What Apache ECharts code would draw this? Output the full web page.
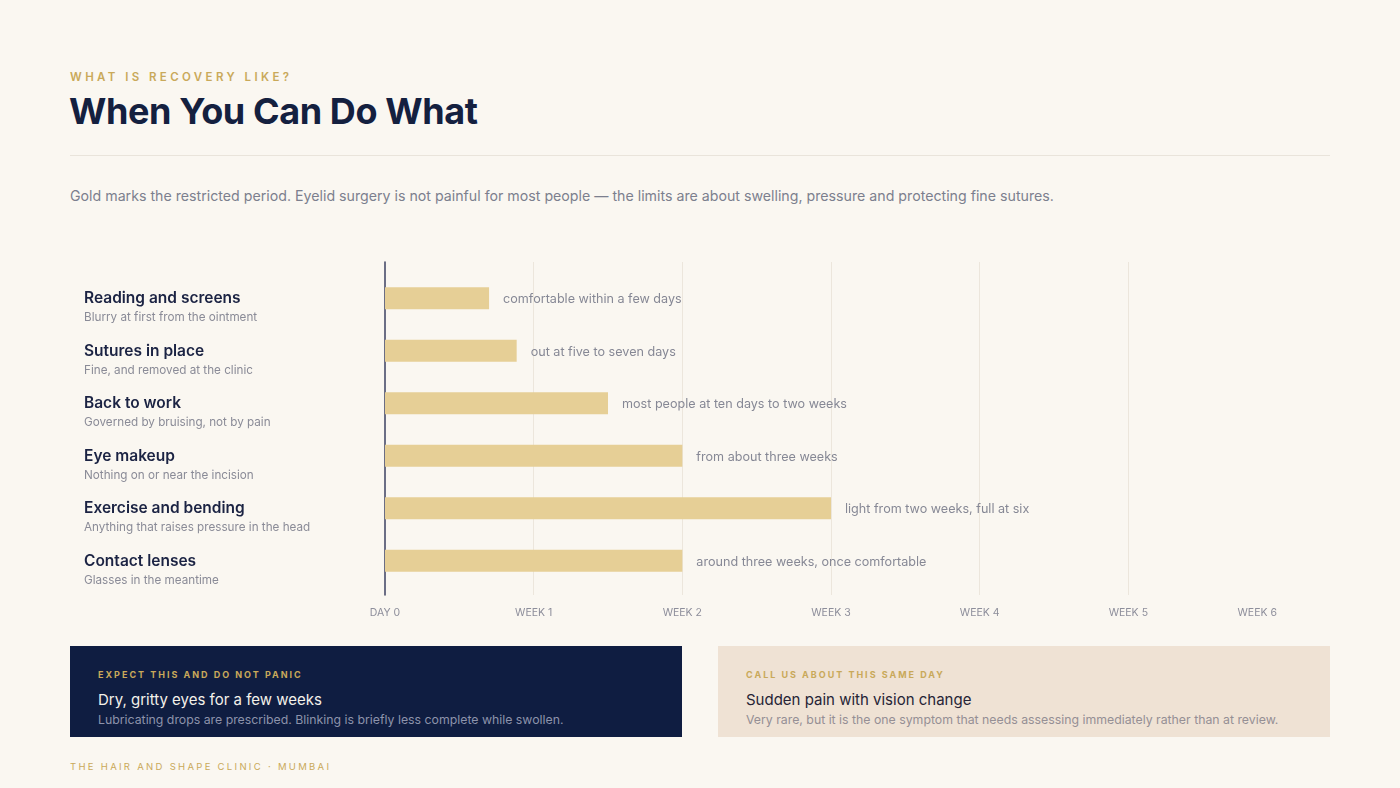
<!DOCTYPE html>
<html>
<head>
<meta charset="utf-8">
<script src="https://cdn.jsdelivr.net/npm/echarts@6/dist/echarts.min.js"></script>
<style>
  html, body { margin: 0; padding: 0; }
  body { width: 1400px; height: 788px; background: #faf7f1; position: relative; overflow: hidden; font-family: Inter, "Noto Sans", sans-serif; }
  .abs { position: absolute; }
  .kicker { left: 70px; top: 70px; font-size: 11.5px; letter-spacing: 3.4px; color: #c9a95a; font-weight: 600; }
  .title { left: 69px; top: 89px; font-size: 36px; font-weight: 700; color: #14203f; letter-spacing: -0.4px; }
  .rule { left: 70px; top: 155px; width: 1260px; height: 1px; background: #e9e4db; }
  .lede { left: 70px; top: 187px; font-size: 14.2px; color: #7c7f8e; }
  #chart { left: 0; top: 230px; width: 1400px; height: 400px; }
  .box { top: 646px; width: 612px; height: 91px; box-sizing: border-box; padding: 23px 28px 0 28px; }
  .box .lab { font-size: 9px; letter-spacing: 2px; font-weight: 700; color: #c9a95a; }
  .box .hd { font-size: 15px; margin-top: 10px; }
  .box .tx { font-size: 12.3px; margin-top: 3px; }
  .dark { left: 70px; background: #0f1d41; }
  .dark .hd { color: #f4f1ea; }
  .dark .tx { color: #8d93ab; }
  .light { left: 718px; background: #efe2d4; }
  .light .hd { color: #262436; }
  .light .tx { color: #958f94; }
  .foot { left: 70px; top: 761px; font-size: 9.5px; letter-spacing: 2.3px; color: #c9a95a; }
</style>
</head>
<body>
<div class="abs kicker">WHAT IS RECOVERY LIKE?</div>
<div class="abs title">When You Can Do What</div>
<div class="abs rule"></div>
<div class="abs lede">Gold marks the restricted period. Eyelid surgery is not painful for most people — the limits are about swelling, pressure and protecting fine sutures.</div>
<div class="abs" id="chart"></div>
<div class="abs box dark">
  <div class="lab">EXPECT THIS AND DO NOT PANIC</div>
  <div class="hd">Dry, gritty eyes for a few weeks</div>
  <div class="tx">Lubricating drops are prescribed. Blinking is briefly less complete while swollen.</div>
</div>
<div class="abs box light">
  <div class="lab">CALL US ABOUT THIS SAME DAY</div>
  <div class="hd">Sudden pain with vision change</div>
  <div class="tx">Very rare, but it is the one symptom that needs assessing immediately rather than at review.</div>
</div>
<div class="abs foot">THE HAIR AND SHAPE CLINIC · MUMBAI</div>
<script>
// activities and how long each is restricted (days)
var activities = ['Reading and screens', 'Sutures in place', 'Back to work', 'Eye makeup', 'Exercise and bending', 'Contact lenses'];
var activityNotes = ['Blurry at first from the ointment', 'Fine, and removed at the clinic', 'Governed by bruising, not by pain', 'Nothing on or near the incision', 'Anything that raises pressure in the head', 'Glasses in the meantime'];
var restrictedDays = [4.9, 6.2, 10.5, 14, 21, 14];
var barNotes = ['comfortable within a few days', 'out at five to seven days', 'most people at ten days to two weeks', 'from about three weeks', 'light from two weeks, full at six', 'around three weeks, once comfortable'];
var tickLabels = ['DAY 0', 'WEEK 1', 'WEEK 2', 'WEEK 3', 'WEEK 4', 'WEEK 5', 'WEEK 6'];

var FONT = 'Inter, "Noto Sans", sans-serif';
var myChart = echarts.init(document.getElementById('chart'));
var option = {
  animation: false,
  textStyle: { fontFamily: FONT },
  grid: [
    { left: 385, right: 123, top: 32, bottom: 35 },
    { left: 385, right: 123, top: 42, bottom: 43 }
  ],
  xAxis: [
    {
      gridIndex: 0, type: 'value', min: 0, max: 42, interval: 7,
      axisLine: { show: false }, axisTick: { show: false },
      splitLine: { show: true, showMinLine: false, showMaxLine: false, lineStyle: { color: '#ece6dc', width: 1 } },
      axisLabel: {
        margin: 12, color: '#8d8e9b', fontSize: 10.5, alignMaxLabel: 'right',
        formatter: function (v) { return tickLabels[Math.round(v / 7)]; }
      }
    },
    { gridIndex: 1, type: 'value', min: 0, max: 42, show: false }
  ],
  yAxis: [
    {
      gridIndex: 0, type: 'value', min: 0, max: 1,
      axisLine: { show: true, lineStyle: { color: '#3b4060', width: 1.5 } },
      axisTick: { show: false }, axisLabel: { show: false }, splitLine: { show: false }
    },
    {
      gridIndex: 1, type: 'category', inverse: true, data: activities,
      axisLine: { show: false }, axisTick: { show: false }, splitLine: { show: false },
      axisLabel: {
        align: 'left', margin: 301, padding: [19, 0, 0, 0],
        formatter: function (v, i) { return '{t|' + v + '}\n{s|' + activityNotes[i] + '}'; },
        rich: {
          t: { fontFamily: FONT, fontSize: 15.5, fontWeight: 600, color: '#1b2343', lineHeight: 20 },
          s: { fontFamily: FONT, fontSize: 11.7, color: '#8a8b97', lineHeight: 18 }
        }
      }
    }
  ],
  series: [{
    type: 'bar', xAxisIndex: 1, yAxisIndex: 1,
    data: restrictedDays, barWidth: 22,
    itemStyle: { color: '#e6cf96' },
    label: {
      show: true, position: 'right', distance: 14, offset: [0, 1],
      color: '#868895', fontSize: 12.6, fontFamily: FONT,
      formatter: function (p) { return barNotes[p.dataIndex]; }
    }
  }]
};
myChart.setOption(option);
</script>
</body>
</html>
